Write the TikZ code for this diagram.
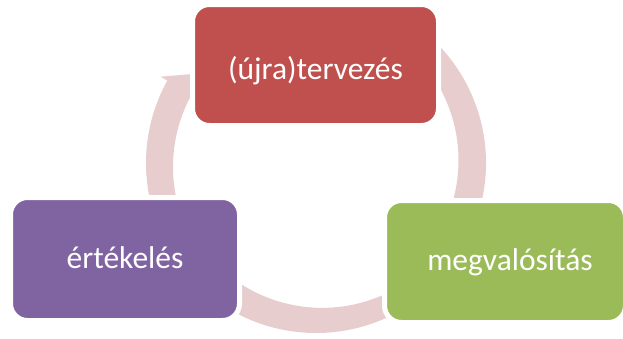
\documentclass[tikz,border=0pt]{standalone}
\usepackage{fontspec}
\setmainfont{Carlito}
\usetikzlibrary{calc}
\definecolor{boxred}{HTML}{C0504D}
\definecolor{boxgreen}{HTML}{9BBB59}
\definecolor{boxpurple}{HTML}{8064A2}
\definecolor{cyclepink}{HTML}{E7CDCD}
\begin{document}
\begin{tikzpicture}[x=1pt,y=-1pt,
  stagebox/.style={rectangle, rounded corners=17pt, draw=white, line width=5pt,
    text=white, font=\fontsize{31.5}{36}\selectfont, align=center, text depth=0pt, inner sep=0pt},
  cyclearrow/.style={fill=cyclepink}]
\useasboundingbox (0,0) rectangle (623,338);
\fill[white] (0,0) rectangle (623,338);
\coordinate (C) at (316,163);
% arrow: evaluation -> (re)planning
\fill[cyclearrow] ($(C)+(160:170)$) arc[start angle=160,end angle=209,radius=170]
  -- ($(C)+(209:178)$) -- (205,73) -- ($(C)+(209:142)$)
  arc[start angle=209,end angle=160,radius=150] -- cycle;
% arrow: (re)planning -> implementation
\fill[cyclearrow] ($(C)+(-60:170)$) arc[start angle=-60,end angle=20,radius=170]
  -- ($(C)+(20:178)$) -- ($(C)+(35:160)$) -- ($(C)+(20:142)$)
  arc[start angle=20,end angle=-60,radius=150] -- cycle;
% arrow: implementation -> evaluation
\fill[cyclearrow] ($(C)+(50:170)$) arc[start angle=50,end angle=140,radius=170]
  -- ($(C)+(140:178)$) -- ($(C)+(155:160)$) -- ($(C)+(140:142)$)
  arc[start angle=140,end angle=50,radius=150] -- cycle;
% stages
\node[stagebox, fill=boxred, minimum width=246pt, minimum height=121pt, text height=28pt]
  (plan) at (315.5,65) {(újra)tervezés};
\node[stagebox, fill=boxgreen, minimum width=241pt, minimum height=122pt, text height=17pt]
  (impl) at (505,261.5) {\hspace*{10pt}megvalósítás};
\node[stagebox, fill=boxpurple, minimum width=229pt, minimum height=123pt, text height=18.5pt]
  (eval) at (125,259) {értékelés};
\end{tikzpicture}
\end{document}
